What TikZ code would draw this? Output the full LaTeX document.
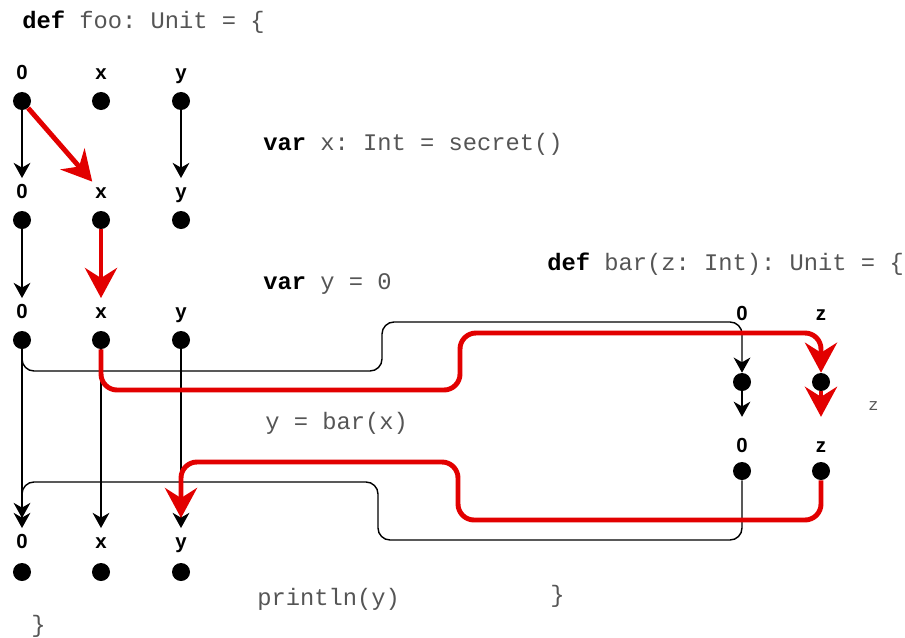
\documentclass[tikz,border=0pt]{standalone}
\usepackage{fontspec}
\setmainfont{Liberation Sans}
\setsansfont{Liberation Sans}
\setmonofont{Liberation Mono}
\usepackage{tikz}
\usetikzlibrary{arrows.meta,positioning}
\definecolor{taintred}{RGB}{226, 0, 0}
\definecolor{codegray}{RGB}{85, 85, 85}

\begin{document}
\begin{tikzpicture}[x=0.025cm, y=-0.025cm,
    blob/.style={circle, fill=black, inner sep=0pt, minimum size=0.45cm},
    vlabel/.style={anchor=base, font=\fontsize{14.5}{17}\selectfont\sffamily\bfseries, text height=12pt, text depth=3pt, inner sep=2pt},
    code/.style={anchor=base west, inner sep=0pt, text=codegray, font=\fontsize{16.9}{20}\selectfont\ttfamily},
    flow/.style={draw=black, line width=1pt, -{Stealth[length=0.38cm, width=0.42cm, inset=0.12cm]}, rounded corners=0.3cm},
    taint/.style={draw=taintred, line width=3.5pt, -{Stealth[length=0.75cm, width=0.8cm, inset=0.25cm]}, rounded corners=0.4cm}
]
    \useasboundingbox (0,0) rectangle (905,637);

    % code of foo
    \node[code] (foohead) at (22,29) {\textbf{\textcolor{black}{def}} foo: Unit = \{};
    \node[code] (stmt1) at (263,150) {\textbf{\textcolor{black}{var}} x: Int = secret()};
    \node[code] (stmt2) at (263,289) {\textbf{\textcolor{black}{var}} y = 0};
    \node[code] (stmt3) at (265,429) {y = bar(x)};
    \node[code] (stmt4) at (257,605) {println(y)};
    \node[code] (fooend) at (31,632) {\}};

    % code of bar
    \node[code] (barhead) at (547,270) {\textbf{\textcolor{black}{def}} bar(z: Int): Unit = \{};
    \node[code, font=\fontsize{12}{14}\selectfont\ttfamily] (barstmt) at (868,410) {z};
    \node[code] (barend) at (550,602) {\}};

    % foo, row 1
    \node[vlabel] (o1) at (22,79) {0};
    \node[vlabel] (x1) at (101,79) {x};
    \node[vlabel] (y1) at (181,79) {y};
    \node[blob] (do1) at (22,101) {};
    \node[blob] (dx1) at (101,101) {};
    \node[blob] (dy1) at (181,101) {};

    % foo, row 2
    \node[vlabel] (o2) at (22,198) {0};
    \node[vlabel] (x2) at (101,198) {x};
    \node[vlabel] (y2) at (181,198) {y};
    \node[blob] (do2) at (22,220) {};
    \node[blob] (dx2) at (101,220) {};
    \node[blob] (dy2) at (181,220) {};

    % foo, row 3
    \node[vlabel] (o3) at (22,318) {0};
    \node[vlabel] (x3) at (101,318) {x};
    \node[vlabel] (y3) at (181,318) {y};
    \node[blob] (do3) at (22,340) {};
    \node[blob] (dx3) at (101,340) {};
    \node[blob] (dy3) at (181,340) {};

    % foo, row 4
    \node[vlabel] (o4) at (22,548) {0};
    \node[vlabel] (x4) at (101,548) {x};
    \node[vlabel] (y4) at (181,548) {y};
    \node[blob] (do4) at (22,572) {};
    \node[blob] (dx4) at (101,572) {};
    \node[blob] (dy4) at (181,572) {};

    % bar
    \node[vlabel] (bo1) at (742,320) {0};
    \node[vlabel] (bz1) at (821,320) {z};
    \node[blob] (bdo1) at (742,382) {};
    \node[blob] (bdz1) at (821,382) {};
    \node[vlabel] (bo2) at (742,452) {0};
    \node[vlabel] (bz2) at (821,452) {z};
    \node[blob] (bdo2) at (742,471) {};
    \node[blob] (bdz2) at (821,471) {};

    % plain flow
    \draw[flow] (do1) -- (o2);
    \draw[flow] (dy1) -- (y2);
    \draw[flow] (do2) -- (o3);
    \draw[flow] (do3) -- (o4);
    \draw[flow] (dx3) -- (x4);
    \draw[flow] (dy3) -- (y4);
    \draw[flow] (do3) -- (22,371) -- (382,371) -- (382,322) -- (742,322) -- (bdo1);
    \draw[flow, shorten >=0.38cm] (bdo1) -- (bo2);
    \draw[flow, shorten >=0.25cm] (bdo2) -- (742,540) -- (378,540) -- (378,482) -- (22,482) -- (o4);

    % secret flow
    \draw[taint] (do1) -- (x2);
    \draw[taint] (dx2) -- (x3);
    \draw[taint] (dx3) -- (101,390) -- (460,390) -- (460,333) -- (821,333) -- (bdz1);
    \draw[taint, shorten >=0.38cm] (bdz1) -- (bz2);
    \draw[taint, shorten >=0.25cm] (bdz2) -- (821,520) -- (458,520) -- (458,462) -- (181,462) -- (y4);

\end{tikzpicture}
\end{document}
